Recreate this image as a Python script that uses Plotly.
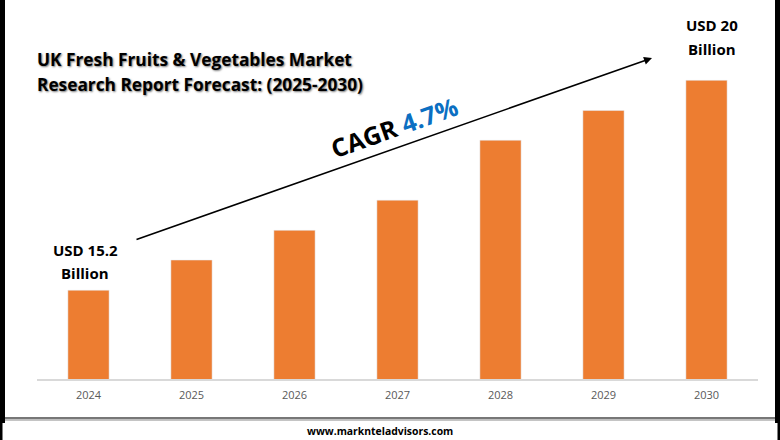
import plotly.graph_objects as go

years = ["2024", "2025", "2026", "2027", "2028", "2029", "2030"]
market_size = [15.2, 15.89, 16.57, 17.26, 18.63, 19.31, 20.0]

title_lines = ["UK Fresh Fruits & Vegetables Market", "Research Report Forecast: (2025-2030)"]
first_label = ["USD 15.2", "Billion"]
last_label = ["USD 20", "Billion"]
cagr_text = "CAGR <span style='color:#0B6FC2'>4.7%</span>"
site = "www.marknteladvisors.com"

W, H = 780, 440
L, R, T, B = 37, 22, 20, 61


def px(x):
    return (x - L) / (W - L - R)


def py(y):
    return 1 - (y - T) / (H - T - B)


def label(text, x, y, size, color="#000000", anchor="center", shadow=None, bold=True, angle=0):
    font = dict(family="Open Sans", size=size, color=color, weight="bold" if bold else "normal")
    if shadow:
        font["shadow"] = shadow
    return dict(text=text, x=px(x), y=py(y), xref="paper", yref="paper", showarrow=False,
                xanchor=anchor, yanchor="middle", font=font, textangle=angle)


def band(x0, x1, y0, y1, color):
    return dict(type="rect", xref="paper", yref="paper", x0=px(x0), x1=px(x1), y0=py(y1), y1=py(y0),
                fillcolor=color, line_width=0)


fig = go.Figure(go.Bar(x=years, y=market_size, width=0.4, marker_color="#ED7D31"))

notes = []
for i, line in enumerate(title_lines):
    notes.append(label(line, 35, 59 + i * 25, 17.3, anchor="left", shadow="1px 1px 2px #777777"))
for i, line in enumerate(first_label):
    notes.append(label(line, 85, 250 + i * 22.5, 15))
for i, line in enumerate(last_label):
    notes.append(label(line, 712, 25.5 + i * 23, 15))
notes.append(label(cagr_text, 394, 127, 25, angle=-19.5))
notes.append(label(site, 380, 431, 10.4))

# trend arrow
notes.append(dict(x=px(652), y=py(58), xref="paper", yref="paper", ax=-517, ay=182,
                  text="", showarrow=True, arrowhead=2, arrowsize=1, arrowwidth=1.6,
                  arrowcolor="#000000"))

fig.update_layout(
    width=W, height=H,
    autosize=False,
    margin=dict(l=L, r=R, t=T, b=B),
    plot_bgcolor="white",
    paper_bgcolor="white",
    showlegend=False,
    bargap=0.6,
    annotations=notes,
    shapes=[
        band(0, 5, 0, 423, "#000000"),
        band(775, 780, 0, 423, "#000000"),
        band(0, 2.5, 423, 440, "#000000"),
        band(777.5, 780, 423, 440, "#000000"),
        band(5, 775, 417, 419.5, "#777777"),
        band(5, 775, 419.5, 421, "#c4c4c4"),
    ],
)
fig.update_xaxes(type="category", range=[-0.5, 6.5], showgrid=False, ticks="", showline=True,
                 linecolor="#d9d9d9", linewidth=1.5, ticklabelstandoff=5,
                 tickfont=dict(family="Open Sans", size=11, color="#595959"))
fig.update_yaxes(range=[13.17, 21.38], visible=False)

# the page's default body margin would push the fixed-size chart 8px off
fig.write_html("out.html", config={"displayModeBar": False},
               post_script="document.body.style.margin='0';")
